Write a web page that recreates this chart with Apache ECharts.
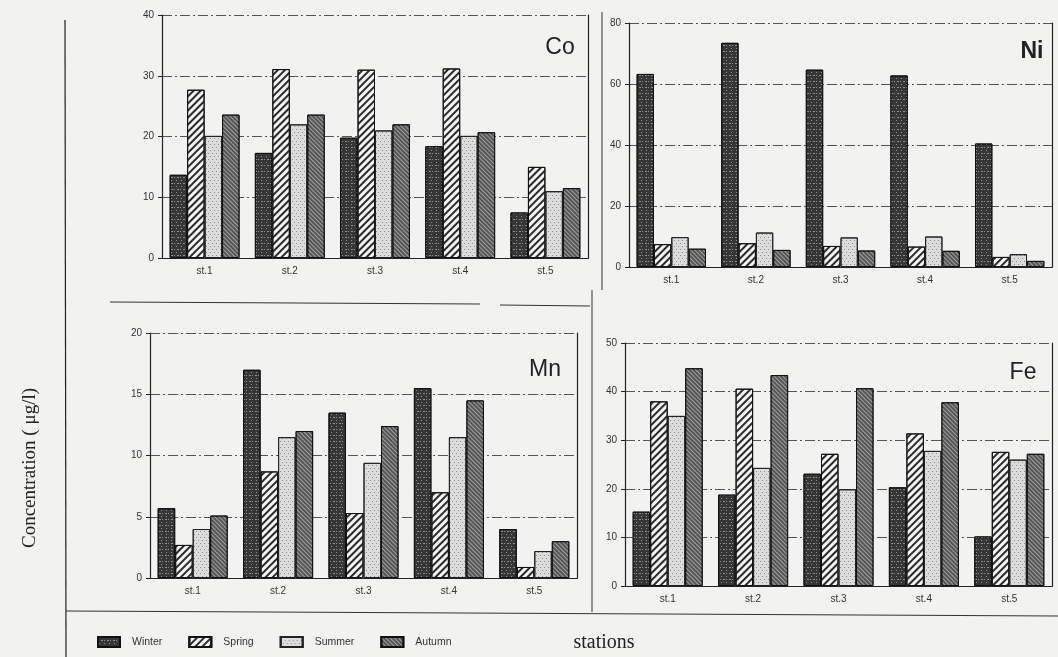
<!DOCTYPE html>
<html><head><meta charset="utf-8">
<script src="https://cdn.jsdelivr.net/npm/echarts@6/dist/echarts.min.js"></script>
<style>html,body{margin:0;padding:0;background:#f2f2f1;}#c{width:1058px;height:657px;}</style>
</head><body><div id="c"></div>
<script>
const stations = ['st.1','st.2','st.3','st.4','st.5'];
const seasons = ['Winter','Spring','Summer','Autumn'];
const coWinter = [13.7,17.3,19.8,18.4,7.5];
const coSpring = [27.7,31.1,31.0,31.2,15.0];
const coSummer = [20.1,22.0,21.0,20.1,11.0];
const coAutumn = [23.6,23.6,22.0,20.7,11.5];
const niWinter = [63.3,73.5,64.7,62.8,40.5];
const niSpring = [7.5,7.8,6.9,6.7,3.3];
const niSummer = [9.8,11.3,9.7,10.0,4.2];
const niAutumn = [6.0,5.6,5.4,5.3,2.0];
const mnWinter = [5.7,17.0,13.5,15.5,4.0];
const mnSpring = [2.7,8.7,5.3,7.0,0.9];
const mnSummer = [4.0,11.5,9.4,11.5,2.2];
const mnAutumn = [5.1,12.0,12.4,14.5,3.0];
const feWinter = [15.3,18.8,23.1,20.3,10.2];
const feSpring = [38.0,40.6,27.2,31.4,27.6];
const feSummer = [35.0,24.3,19.9,27.8,26.0];
const feAutumn = [44.8,43.4,40.7,37.8,27.2];
const elements = ['Co','Ni','Mn','Fe'];
const yMax = [40,80,20,50];
const yStep = [10,20,5,10];

const panels = [
  [coWinter,coSpring,coSummer,coAutumn],
  [niWinter,niSpring,niSummer,niAutumn],
  [mnWinter,mnSpring,mnSummer,mnAutumn],
  [feWinter,feSpring,feSummer,feAutumn]
];
const grids = [
  {left:162, top:15, width:426, height:243},
  {left:629, top:23, width:423, height:244},
  {left:150, top:333, width:427, height:245},
  {left:625, top:343, width:427, height:243}
];
const styles = [
  {color:'#363636', borderColor:'#111', borderWidth:1,
   decal:{symbol:'rect', symbolSize:1, color:'rgba(230,230,230,0.5)', dashArrayX:[[1,2,2,1],[0,1,1,3]], dashArrayY:[1,1.5], rotation:0}},
  {color:'#f4f4f4', borderColor:'#111', borderWidth:1,
   decal:{symbol:'rect', symbolSize:1, color:'#2a2a2a', dashArrayX:[1,0], dashArrayY:[1.6,2.2], rotation:-Math.PI/4}},
  {color:'#dcdcdc', borderColor:'#222', borderWidth:1,
   decal:{symbol:'rect', symbolSize:1, color:'rgba(90,90,90,0.6)', dashArrayX:[[1,3],[0,2,1,1]], dashArrayY:[1,2], rotation:0}},
  {color:'#555555', borderColor:'#111', borderWidth:1,
   decal:{symbol:'rect', symbolSize:1, color:'rgba(235,235,235,0.5)', dashArrayX:[1,0], dashArrayY:[1,2], rotation:Math.PI/4}}
];

const lab = {fontFamily:'Liberation Sans', fontSize:10, color:'#333'};
const option = {
  backgroundColor:'#f2f2f1',
  animation:false,
  grid: grids.map(g=>Object.assign({containLabel:false}, g)),
  xAxis: grids.map((g,i)=>({
    type:'category', gridIndex:i, data:stations,
    axisLine:{lineStyle:{color:'#222', width:1.2}}, axisTick:{show:false},
    axisLabel:Object.assign({margin:8}, lab)
  })).concat(grids.map((g,i)=>({
    type:'category', gridIndex:i, data:stations, position:'top',
    axisLine:{lineStyle:{color:'#222', width:1.2}}, axisTick:{show:false}, axisLabel:{show:false}
  }))),
  yAxis: grids.map((g,i)=>({
    type:'value', gridIndex:i, min:0, max:yMax[i], interval:yStep[i],
    axisLine:{show:true, lineStyle:{color:'#222', width:1.2}}, axisTick:{show:true, length:4, lineStyle:{color:'#222'}},
    axisLabel:Object.assign({margin:8}, lab),
    splitLine:{show:true, lineStyle:{color:'#555', type:[10,3,2,3], width:1}}
  })).concat(grids.map((g,i)=>({
    type:'value', gridIndex:i, min:0, max:yMax[i], position:'right',
    axisLine:{show:true, lineStyle:{color:'#222', width:1.2}}, axisTick:{show:false}, axisLabel:{show:false}, splitLine:{show:false}
  }))),
  legend:{
    left:97, top:636, padding:0, icon:'rect', itemWidth:22, itemHeight:10, itemGap:26,
    data:seasons,
    textStyle:{fontFamily:'Liberation Sans', fontSize:10.5, color:'#333', padding:[0,0,0,7]}
  },
  series: [],
  graphic: [
    {type:'text', x:30, y:468, rotation:Math.PI/2, style:{text:'Concentration ( μg/l)', fontFamily:'Liberation Serif', fontSize:19, fill:'#222', textAlign:'center', textVerticalAlign:'middle'}},
    {type:'text', x:604, y:643, style:{text:'stations', fontFamily:'Liberation Serif', fontSize:20, fill:'#222', textAlign:'center', textVerticalAlign:'middle'}},
    {type:'text', x:560, y:48, style:{text:'Co', fontFamily:'Liberation Sans', fontSize:23, fill:'#222', textAlign:'center', textVerticalAlign:'middle'}},
    {type:'text', x:1032, y:52, style:{text:'Ni', fontFamily:'Liberation Sans', fontSize:23, fontWeight:'bold', fill:'#222', textAlign:'center', textVerticalAlign:'middle'}},
    {type:'text', x:545, y:370, style:{text:'Mn', fontFamily:'Liberation Sans', fontSize:23, fill:'#222', textAlign:'center', textVerticalAlign:'middle'}},
    {type:'text', x:1023, y:373, style:{text:'Fe', fontFamily:'Liberation Sans', fontSize:23, fill:'#222', textAlign:'center', textVerticalAlign:'middle'}},
    {type:'line', shape:{x1:65, y1:20, x2:66, y2:657}, style:{stroke:'#222', lineWidth:1.2}},
    {type:'line', shape:{x1:602, y1:12, x2:602, y2:290}, style:{stroke:'#333', lineWidth:1}},
    {type:'line', shape:{x1:110, y1:302, x2:480, y2:304}, style:{stroke:'#333', lineWidth:1}},
    {type:'line', shape:{x1:500, y1:305, x2:590, y2:306}, style:{stroke:'#333', lineWidth:1}},
    {type:'line', shape:{x1:592, y1:290, x2:592, y2:612}, style:{stroke:'#333', lineWidth:1}},
    {type:'line', shape:{x1:66, y1:611, x2:1058, y2:616}, style:{stroke:'#333', lineWidth:1.2}}
  ]
};
panels.forEach((vals,gi)=>{
  vals.forEach((arr,si)=>{
    option.series.push({
      type:'bar', name:seasons[si], xAxisIndex:gi, yAxisIndex:gi, data:arr,
      barGap:'0%', barCategoryGap:'18%', itemStyle:styles[si]
    });
  });
});
const chart = echarts.init(document.getElementById('c'), null, {renderer:'canvas'});
chart.setOption(option);
</script></body></html>
